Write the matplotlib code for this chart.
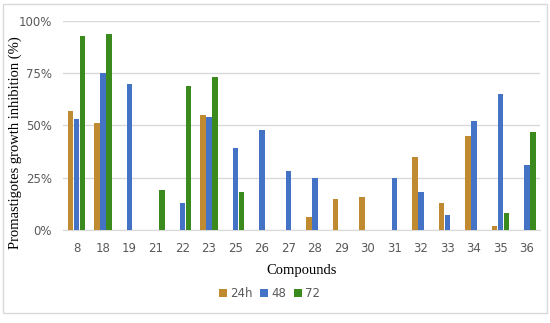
import numpy as np
import matplotlib
matplotlib.use("Agg")
from matplotlib import pyplot as plt
from matplotlib.patches import Rectangle
from matplotlib.ticker import PercentFormatter

compounds = ["8", "18", "19", "21", "22", "23", "25", "26", "27", "28",
             "29", "30", "31", "32", "33", "34", "35", "36"]
h24 = [57, 51, 0, 0, 0, 55, 0, 0, 0, 6, 15, 16, 0, 35, 13, 45, 2, 0]
h48 = [53, 75, 70, 0, 13, 54, 39, 48, 28, 25, 0, 0, 25, 18, 7, 52, 65, 31]
h72 = [93, 94, 0, 19, 69, 73, 18, 0, 0, 0, 0, 0, 0, 0, 0, 0, 8, 47]
series_labels = ["24h", "48", "72"]
colors = ["#BF8A30", "#4472C4", "#3A8A1E"]

fig = plt.figure(figsize=(5.5, 3.23), dpi=100)
ax = fig.add_axes([0.115, 0.288, 0.867, 0.647])

x = np.arange(len(compounds))
w = 0.21
for i, (vals, lab, c) in enumerate(zip([h24, h48, h72], series_labels, colors)):
    ax.bar(x + (i - 1) * 0.225, vals, w, color=c, label=lab, zorder=3)

ax.set_xlim(-0.5, len(compounds) - 0.5)
ax.set_ylim(0, 100)
ax.set_yticks([0, 25, 50, 75, 100])
ax.yaxis.set_major_formatter(PercentFormatter(100, decimals=0))
ax.set_xticks(x)
ax.set_xticklabels(compounds)
ax.grid(axis="y", color="#D9D9D9", linewidth=1, zorder=0)
for s in ["top", "right", "left"]:
    ax.spines[s].set_visible(False)
ax.spines["bottom"].set_color("#D9D9D9")
ax.tick_params(length=0, labelsize=8.5, colors="#595959")
ax.tick_params(axis="x", pad=9)
ax.tick_params(axis="y", pad=8)

serif = {"family": "Liberation Serif", "size": 10.5}
ax.set_xlabel("Compounds", fontdict=serif, labelpad=6)
ax.set_ylabel("Promastigotes growth inhibition (%)", fontdict=serif)
ax.yaxis.set_label_coords(-0.087, 0.42)

fig.legend(loc="center", bbox_to_anchor=(0.49, 0.09), ncol=3, frameon=False,
           fontsize=8.5, handlelength=0.7, handleheight=0.7, handletextpad=0.3,
           columnspacing=0.6, labelcolor="#595959")

fig.patches.append(Rectangle((0.006, 0.03), 0.988, 0.958, transform=fig.transFigure,
                             fill=False, edgecolor="#D9D9D9", linewidth=1))

fig.savefig("out.png", dpi=100)
